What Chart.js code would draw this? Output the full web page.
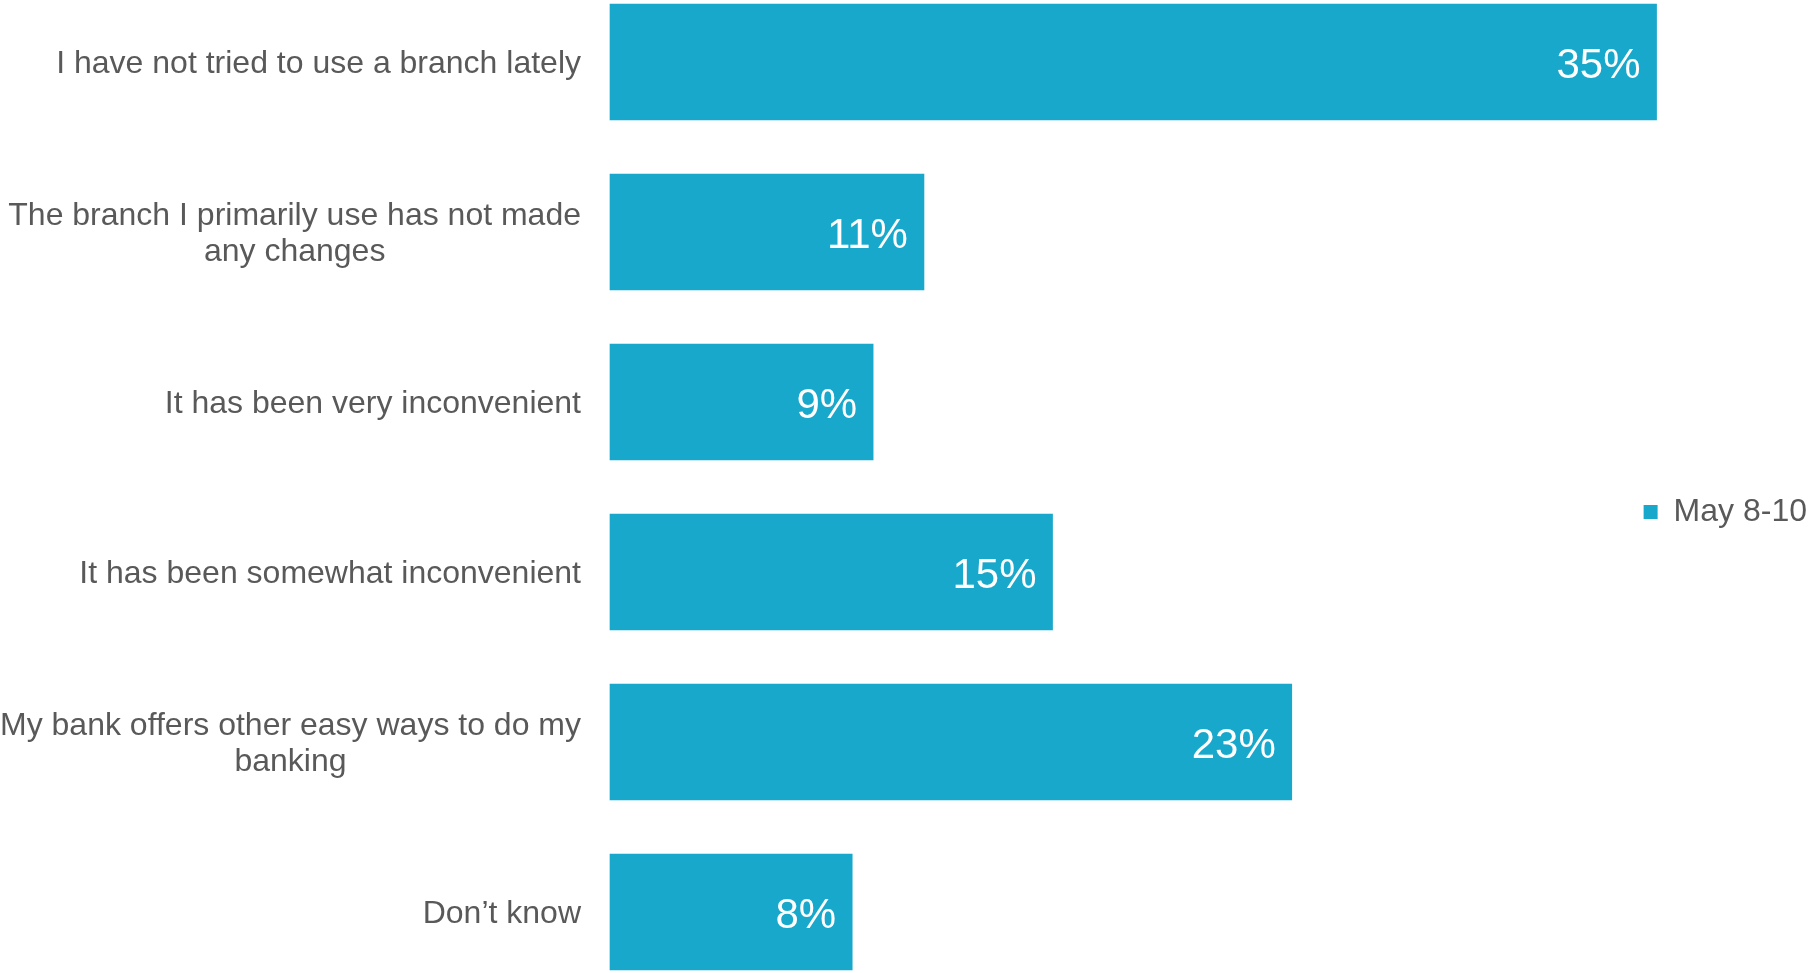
<!DOCTYPE html>
<html>
<head>
<meta charset="utf-8">
<script src="https://cdn.jsdelivr.net/npm/chart.js@4"></script>
<style>
  html, body { margin: 0; padding: 0; background: #fff; overflow: hidden; }
  #wrap { width: 1809px; height: 973px; position: relative; }
</style>
</head>
<body>
<div id="wrap"><canvas id="myChart"></canvas></div>
<script>
const categories = [
  "I have not tried to use a branch lately",
  ["The branch I primarily use has not made", "any changes"],
  "It has been very inconvenient",
  "It has been somewhat inconvenient",
  ["My bank offers other easy ways to do my", "banking"],
  "Don\u2019t know"
];
const seriesName = "May 8-10";
const seriesValues = [35, 10.5, 8.8, 14.8, 22.8, 8.1];
const valueLabels = ["35%", "11%", "9%", "15%", "23%", "8%"];

const barColor = "#18A8CB";
const textColor = "#595959";
const fontFamily = "'Liberation Sans', Arial, sans-serif";

// category labels: block right-aligned to the axis, lines centred inside the block
const categoryLabels = {
  id: "categoryLabels",
  afterDraw(chart) {
    const ctx = chart.ctx;
    const yScale = chart.scales.y;
    const right = chart.chartArea.left - 29;
    ctx.save();
    ctx.font = "32px " + fontFamily;
    ctx.fillStyle = textColor;
    ctx.textAlign = "center";
    ctx.textBaseline = "middle";
    categories.forEach(function (label, i) {
      const lines = Array.isArray(label) ? label : [label];
      const w = Math.max.apply(null, lines.map(function (l) { return ctx.measureText(l).width; }));
      const cx = right - w / 2;
      const y = yScale.getPixelForValue(i) + 2;
      lines.forEach(function (line, j) {
        ctx.fillText(line, cx, y + (j - (lines.length - 1) / 2) * 36);
      });
    });
    ctx.restore();
  }
};

// value labels inside the end of each bar
const valueLabelsPlugin = {
  id: "valueLabels",
  afterDatasetsDraw(chart) {
    const ctx = chart.ctx;
    const meta = chart.getDatasetMeta(0);
    ctx.save();
    ctx.font = "42px " + fontFamily;
    ctx.fillStyle = "#ffffff";
    ctx.textAlign = "right";
    ctx.textBaseline = "middle";
    meta.data.forEach(function (bar, i) {
      ctx.fillText(valueLabels[i], bar.x - 16, bar.y + 4);
    });
    ctx.restore();
  }
};

const ctx = document.getElementById("myChart").getContext("2d");
const myChart = new Chart(ctx, {
  type: "bar",
  data: {
    labels: categories,
    datasets: [
      {
        label: seriesName,
        data: seriesValues,
        backgroundColor: barColor,
        borderWidth: 0,
        barThickness: 116,
        clip: false
      }
    ]
  },
  options: {
    indexAxis: "y",
    responsive: true,
    maintainAspectRatio: false,
    animation: false,
    layout: {
      padding: { left: 610, top: 62, bottom: 61, right: -8 }
    },
    scales: {
      x: {
        display: false,
        min: 0,
        max: 34.5
      },
      y: {
        display: false,
        offset: false
      }
    },
    plugins: {
      tooltip: { enabled: false },
      legend: {
        position: "right",
        title: {
          display: true,
          text: "",
          font: { size: 10, lineHeight: 1.2 },
          padding: { top: 38, bottom: 0 }
        },
        labels: {
          boxWidth: 14,
          boxHeight: 14,
          padding: 2,
          color: textColor,
          font: { size: 32, family: fontFamily }
        }
      }
    }
  },
  plugins: [categoryLabels, valueLabelsPlugin]
});
</script>
</body>
</html>
